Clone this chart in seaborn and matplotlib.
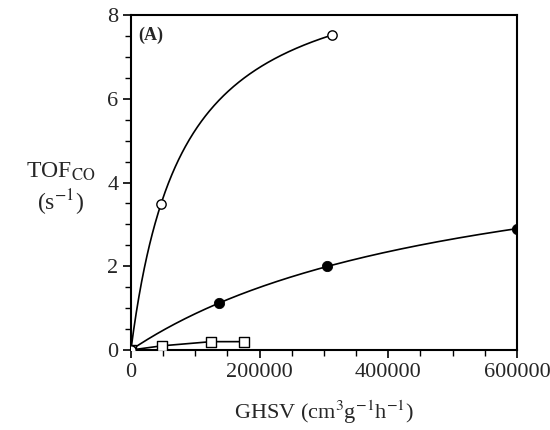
import numpy as np
import pandas as pd
import matplotlib
matplotlib.use("Agg")
import matplotlib.pyplot as plt
from matplotlib.ticker import MultipleLocator
import seaborn as sns

# values
ghsv_open = [0, 46600, 312000]
tof_open = [0.0, 3.48, 7.52]
ghsv_filled = [0, 136800, 304700, 600000]
tof_filled = [0.0, 1.12, 2.00, 2.89]
ghsv_square = [0, 48000, 125000, 175000]
tof_square = [0.0, 0.10, 0.20, 0.20]

sns.set_theme(style="ticks")
plt.rcParams['font.family'] = ['Liberation Serif', 'DejaVu Serif']
plt.rcParams['mathtext.fontset'] = 'stix'


def saturation_fit(x, y):
    # y = a*x/(b+x), linearised: 1/y = 1/a + (b/a)/x
    x = np.asarray(x[1:], float)
    y = np.asarray(y[1:], float)
    slope, icpt = np.polyfit(1 / x, 1 / y, 1)
    a = 1 / icpt
    b = slope * a
    return a, b


fig = plt.figure(figsize=(5.5, 4.3), dpi=100)
ax = fig.add_axes([0.238, 0.186, 0.702, 0.779])

for xs, ys in [(ghsv_open, tof_open), (ghsv_filled, tof_filled)]:
    a, b = saturation_fit(xs, ys)
    xx = np.linspace(0, xs[-1], 300)
    curve = pd.DataFrame({"x": xx, "y": a * xx / (b + xx)})
    sns.lineplot(data=curve, x="x", y="y", ax=ax, color="black", lw=1.2, sort=False)

ax.plot(ghsv_square, tof_square, color="black", lw=1.2)

sq = pd.DataFrame({"x": ghsv_square, "y": tof_square})
sns.scatterplot(data=sq, x="x", y="y", ax=ax, marker="s", s=45,
                facecolor="white", edgecolor="black", linewidth=1.0, zorder=3)
fl = pd.DataFrame({"x": ghsv_filled, "y": tof_filled})
sns.scatterplot(data=fl, x="x", y="y", ax=ax, marker="o", s=55,
                color="black", edgecolor="black", zorder=4)
op = pd.DataFrame({"x": ghsv_open, "y": tof_open})
sns.scatterplot(data=op, x="x", y="y", ax=ax, marker="o", s=45,
                facecolor="white", edgecolor="black", linewidth=1.0, zorder=5)

ax.set_xlim(0, 600000)
ax.set_ylim(0, 8)
ax.xaxis.set_major_locator(MultipleLocator(200000))
ax.xaxis.set_minor_locator(MultipleLocator(50000))
ax.yaxis.set_major_locator(MultipleLocator(2))
ax.yaxis.set_minor_locator(MultipleLocator(0.5))
ax.tick_params(which="major", length=6, width=1.2, labelsize=16, color="black", pad=3)
ax.tick_params(which="minor", length=4, width=1.0, color="black")
for s in ax.spines.values():
    s.set_linewidth(1.5)
    s.set_color("black")

ax.set_xlabel(r"GHSV (cm$^{3}$g$^{-1}$h$^{-1}$)", fontsize=16, labelpad=12)
ax.set_ylabel("")
fig.text(0.11, 0.6, r"TOF$_{\mathrm{CO}}$", fontsize=17, ha="center", va="center")
fig.text(0.11, 0.528, r"(s$^{-1}$)", fontsize=17, ha="center", va="center")
ax.text(0.018, 0.965, "(A)", transform=ax.transAxes, fontsize=13,
        fontweight="bold", ha="left", va="top")

fig.savefig("out.png", dpi=100)
